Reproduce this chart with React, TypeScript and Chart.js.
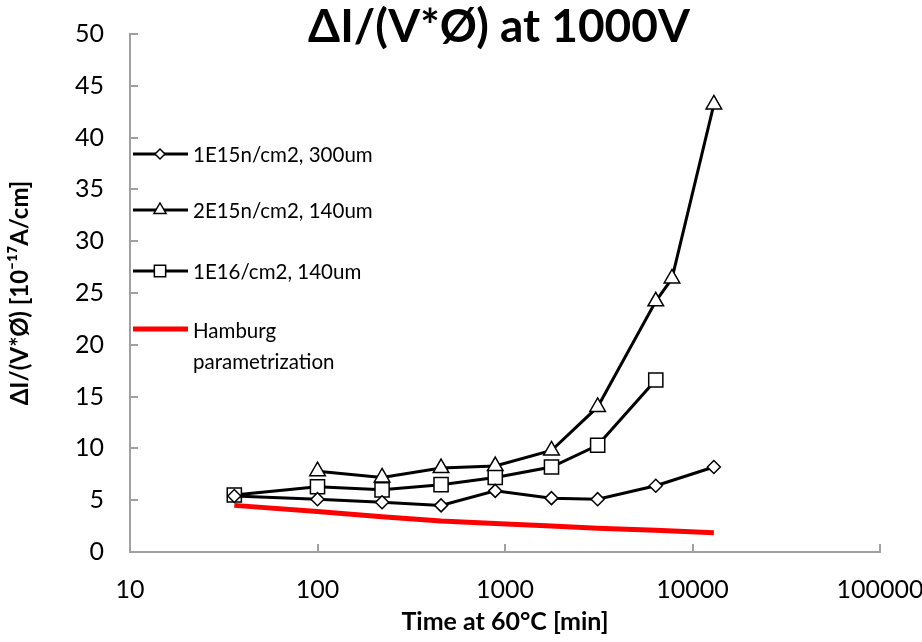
import React, { useEffect, useRef } from 'react';
import { Chart, registerables } from 'chart.js';

Chart.register(...registerables);

// ---- data ----
const TITLE = 'ΔI/(V*Ø) at 1000V';
const X_TITLE = 'Time at 60°C [min]';
const Y_TITLE = 'ΔI/(V*Ø) [10⁻¹⁷A/cm]';
const X_TICKS = [10, 100, 1000, 10000, 100000];
const Y_TICKS = [0, 5, 10, 15, 20, 25, 30, 35, 40, 45, 50];

const SERIES_NAMES = ['1E15n/cm2, 300um', '2E15n/cm2, 140um', '1E16/cm2, 140um', 'Hamburg parametrization'];

const times1E15 = [36, 100, 221, 456, 887, 1770, 3120, 6370, 13000];
const values1E15 = [5.4, 5.1, 4.8, 4.5, 5.9, 5.2, 5.1, 6.4, 8.2];

const times2E15 = [100, 221, 456, 887, 1770, 3120, 6370, 7770, 13000];
const values2E15 = [7.8, 7.2, 8.1, 8.3, 9.8, 14.0, 24.2, 26.4, 43.2];

const times1E16 = [36, 100, 221, 456, 887, 1770, 3120, 6370];
const values1E16 = [5.5, 6.3, 6.0, 6.5, 7.2, 8.2, 10.3, 16.6];

const timesHamburg = [36, 100, 221, 456, 887, 1770, 3120, 6370, 13000];
const valuesHamburg = [4.5, 3.9, 3.4, 3.0, 2.75, 2.5, 2.3, 2.1, 1.85];

const FONT = 'Lato';
const AXIS_COLOR = '#a0a0a0';
const RED = '#ff0000';

const pts = (xs: number[], ys: number[]) => xs.map((x, i) => ({ x, y: ys[i] }));

function marker(ctx: CanvasRenderingContext2D, style: string, x: number, y: number, r: number) {
  ctx.beginPath();
  if (style === 'rectRot') {
    ctx.moveTo(x, y - r); ctx.lineTo(x + r, y); ctx.lineTo(x, y + r); ctx.lineTo(x - r, y); ctx.closePath();
  } else if (style === 'triangle') {
    const h = r * 1.5, w = r * 1.732;
    ctx.moveTo(x, y - r); ctx.lineTo(x + w / 2, y - r + h); ctx.lineTo(x - w / 2, y - r + h); ctx.closePath();
  } else {
    ctx.rect(x - r * 0.707, y - r * 0.707, r * 1.414, r * 1.414);
  }
  ctx.fillStyle = '#fff';
  ctx.fill();
  ctx.strokeStyle = '#000';
  ctx.lineWidth = 1.5;
  ctx.stroke();
}

const overlay = {
  id: 'overlay',
  afterDraw(chart: any) {
    const { ctx, chartArea: ca, scales } = chart;
    const xs = scales.x, ys = scales.y;
    ctx.save();
    // inner tick marks
    ctx.strokeStyle = AXIS_COLOR;
    ctx.lineWidth = 2;
    ctx.beginPath();
    for (const v of Y_TICKS) {
      if (v === 0) continue;
      const py = Math.round(ys.getPixelForValue(v));
      ctx.moveTo(ca.left, py);
      ctx.lineTo(ca.left + 8, py);
    }
    for (const v of X_TICKS) {
      if (v === X_TICKS[0]) continue;
      const px = Math.round(xs.getPixelForValue(v));
      ctx.moveTo(px, ca.bottom);
      ctx.lineTo(px, ca.bottom - 8);
    }
    ctx.stroke();

    // title
    ctx.fillStyle = '#000';
    ctx.font = `bold 46px ${FONT}`;
    ctx.textAlign = 'center';
    ctx.textBaseline = 'alphabetic';
    ctx.fillText(TITLE, (ca.left + ca.right) / 2 - 6, 42);

    // legend
    const lx0 = ca.left + 3, lx1 = ca.left + 58, mx = ca.left + 30, tx = ca.left + 63;
    const items = [
      { y: 154, style: 'rectRot', r: 5 },
      { y: 210, style: 'triangle', r: 7 },
      { y: 271, style: 'rect', r: 8 },
    ];
    ctx.font = `20.5px ${FONT}`;
    ctx.textAlign = 'left';
    ctx.textBaseline = 'middle';
    items.forEach((it, i) => {
      ctx.strokeStyle = '#000';
      ctx.lineWidth = 3;
      ctx.beginPath();
      ctx.moveTo(lx0, it.y);
      ctx.lineTo(lx1, it.y);
      ctx.stroke();
      marker(ctx, it.style, mx, it.y, it.r);
      ctx.fillStyle = '#000';
      ctx.fillText(SERIES_NAMES[i], tx, it.y + 1);
    });
    ctx.strokeStyle = RED;
    ctx.lineWidth = 5;
    ctx.beginPath();
    ctx.moveTo(lx0, 329);
    ctx.lineTo(lx1, 329);
    ctx.stroke();
    ctx.fillStyle = '#000';
    const hw = SERIES_NAMES[3].split(' ');
    ctx.fillText(hw[0], tx, 331);
    ctx.fillText(hw[1], tx, 362);
    ctx.restore();
  },
};

export default function App() {
  const ref = useRef<HTMLCanvasElement | null>(null);
  useEffect(() => {
    document.body.style.margin = '0';
    const canvas = ref.current!;
    const chart = new Chart(canvas, {
      type: 'line',
      data: {
        datasets: [
          {
            label: SERIES_NAMES[0],
            data: pts(times1E15, values1E15),
            borderColor: '#000', borderWidth: 3,
            pointStyle: 'rectRot', pointRadius: 6.5,
            pointBackgroundColor: '#fff', pointBorderColor: '#000', pointBorderWidth: 1.5,
          },
          {
            label: SERIES_NAMES[1],
            data: pts(times2E15, values2E15),
            borderColor: '#000', borderWidth: 3,
            pointStyle: 'triangle', pointRadius: 9,
            pointBackgroundColor: '#fff', pointBorderColor: '#000', pointBorderWidth: 1.5,
          },
          {
            label: SERIES_NAMES[2],
            data: pts(times1E16, values1E16),
            borderColor: '#000', borderWidth: 3,
            pointStyle: 'rect', pointRadius: 10,
            pointBackgroundColor: '#fff', pointBorderColor: '#000', pointBorderWidth: 1.5,
          },
          {
            label: SERIES_NAMES[3],
            data: pts(timesHamburg, valuesHamburg),
            borderColor: RED, borderWidth: 5,
            pointRadius: 0,
          },
        ],
      },
      options: {
        responsive: false,
        animation: false,
        layout: { padding: { top: 34, right: 42, left: 0, bottom: 0 } },
        plugins: { legend: { display: false }, title: { display: false }, tooltip: { enabled: false } },
        scales: {
          x: {
            type: 'logarithmic',
            min: 10,
            max: 100000,
            afterBuildTicks: (scale: any) => {
              scale.ticks = X_TICKS.map((v) => ({ value: v }));
            },
            afterFit: (scale: any) => {
              scale.height = 90;
              scale.paddingLeft = 0;
              scale.paddingRight = 0;
            },
            ticks: {
              callback: (v: any) => String(v),
              color: '#000',
              font: { family: FONT, size: 25 },
              padding: 23,
              maxRotation: 0,
              autoSkip: false,
            },
            grid: { drawOnChartArea: false, drawTicks: false },
            border: { color: AXIS_COLOR, width: 2 },
            title: {
              display: true,
              text: X_TITLE,
              color: '#000',
              font: { family: FONT, size: 25, weight: 'bold' },
              padding: { top: 0, bottom: 5 },
            },
          },
          y: {
            type: 'linear',
            min: 0,
            max: 50,
            afterBuildTicks: (scale: any) => {
              scale.ticks = Y_TICKS.map((v) => ({ value: v }));
            },
            afterFit: (scale: any) => {
              scale.width = 130;
              scale.paddingTop = 0;
              scale.paddingBottom = 0;
            },
            ticks: {
              callback: (v: any) => String(v),
              color: '#000',
              font: { family: FONT, size: 25 },
              padding: 26,
            },
            grid: { drawOnChartArea: false, drawTicks: false },
            border: { color: AXIS_COLOR, width: 2 },
            title: {
              display: true,
              text: Y_TITLE,
              color: '#000',
              font: { family: FONT, size: 24, weight: 'bold' },
              padding: { top: 6, bottom: 0 },
            },
          },
        },
      },
      plugins: [overlay],
    });
    return () => chart.destroy();
  }, []);
  return <canvas ref={ref} width={922} height={642} style={{ display: 'block' }} />;
}
